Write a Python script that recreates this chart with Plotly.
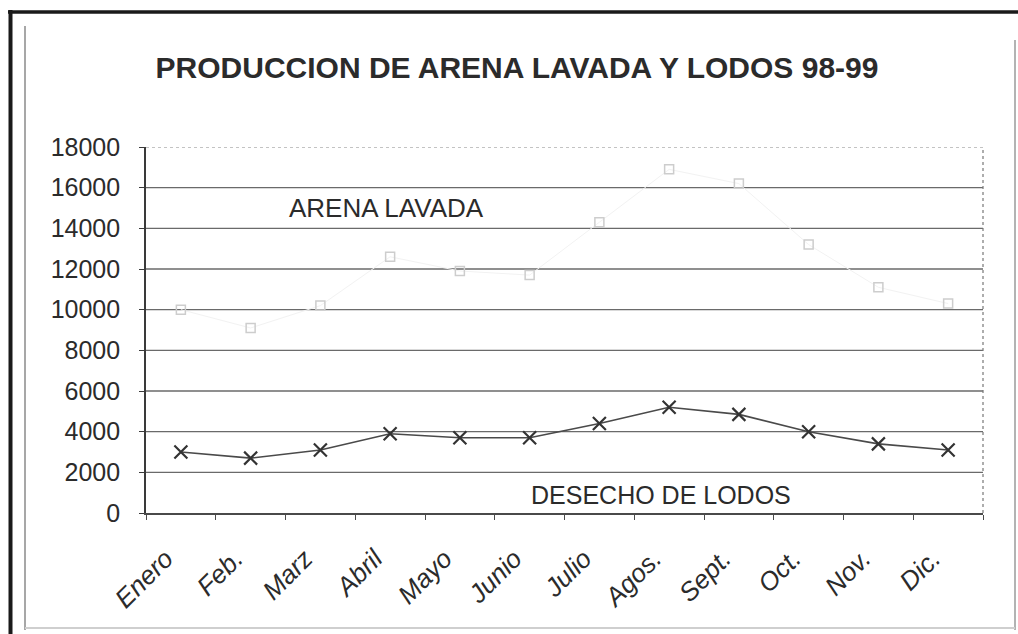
import plotly.graph_objects as go

# Monthly production, 1998-99
meses = ["Enero", "Feb.", "Marz", "Abril", "Mayo", "Junio",
         "Julio", "Agos.", "Sept.", "Oct.", "Nov.", "Dic."]
arena_lavada = [10000, 9100, 10200, 12600, 11900, 11700,
                14300, 16900, 16200, 13200, 11100, 10300]
desecho_lodos = [3000, 2700, 3100, 3900, 3700, 3700,
                 4400, 5200, 4850, 4000, 3400, 3100]
y_ticks = [0, 2000, 4000, 6000, 8000, 10000, 12000, 14000, 16000, 18000]

W, H = 1018, 634
ML, MR, MT, MB = 146, 35, 147, 121
FONT = "Liberation Sans, Arial, sans-serif"
INK = "#2b2b2b"


def px_x(p):
    return (p - ML) / (W - ML - MR)


def px_y(p):
    return 1 - (p - MT) / (H - MT - MB)


fig = go.Figure()

# faint washed sand series
fig.add_trace(go.Scatter(
    x=meses, y=arena_lavada, mode="lines+markers", name="ARENA LAVADA",
    line=dict(color="#f2f2f2", width=1),
    marker=dict(symbol="square-open", size=9, color="#cdcdcd",
                line=dict(width=1.5, color="#cdcdcd")),
))

# sludge waste series
fig.add_trace(go.Scatter(
    x=meses, y=desecho_lodos, mode="lines+markers", name="DESECHO DE LODOS",
    line=dict(color="#4a4a4a", width=1.6),
    marker=dict(symbol="x-thin-open", size=13, color="#333333",
                line=dict(width=2.2, color="#333333")),
))

shapes = []
# horizontal grid lines
for v in y_ticks[1:-1]:
    shapes.append(dict(type="line", xref="paper", yref="y", x0=0, x1=1,
                       y0=v, y1=v, layer="below",
                       line=dict(color="#6a6a6a", width=1.3)))
# dotted top and right plot border
shapes.append(dict(type="line", xref="paper", yref="y", x0=0, x1=1,
                   y0=y_ticks[-1], y1=y_ticks[-1], layer="below",
                   line=dict(color="#888888", width=1.2, dash="dot")))
shapes.append(dict(type="line", xref="paper", yref="paper", x0=1, x1=1,
                   y0=0, y1=1, layer="below",
                   line=dict(color="#777777", width=1.2, dash="dot")))
# outer frame
shapes += [
    dict(type="line", xref="paper", yref="paper", x0=px_x(8), x1=px_x(1018),
         y0=px_y(12), y1=px_y(12), line=dict(color="#1a1a1a", width=3.5)),
    dict(type="line", xref="paper", yref="paper", x0=px_x(10.5), x1=px_x(10.5),
         y0=px_y(10), y1=px_y(634), line=dict(color="#1a1a1a", width=4)),
    dict(type="line", xref="paper", yref="paper", x0=px_x(25), x1=px_x(25),
         y0=px_y(26), y1=px_y(630), line=dict(color="#8a8a8a", width=1.5)),
    dict(type="line", xref="paper", yref="paper", x0=px_x(1015), x1=px_x(1015),
         y0=px_y(40), y1=px_y(630), line=dict(color="#9a9a9a", width=1.5)),
    dict(type="line", xref="paper", yref="paper", x0=px_x(25), x1=px_x(1015),
         y0=px_y(628), y1=px_y(628), line=dict(color="#cfcfcf", width=2)),
]

annotations = [
    dict(text="ARENA LAVADA", xref="paper", yref="paper",
         x=px_x(386), y=px_y(208), xanchor="center", yanchor="middle",
         showarrow=False, font=dict(family=FONT, size=26, color=INK)),
    dict(text="DESECHO DE LODOS", xref="paper", yref="paper",
         x=px_x(661), y=px_y(495), xanchor="center", yanchor="middle",
         showarrow=False, font=dict(family=FONT, size=25, color=INK)),
]

fig.update_layout(
    width=W, height=H,
    margin=dict(l=ML, r=MR, t=MT, b=MB),
    paper_bgcolor="white", plot_bgcolor="white",
    showlegend=False,
    title=dict(text="<b>PRODUCCION DE ARENA LAVADA Y LODOS 98-99</b>",
               x=517 / W, xanchor="center", y=1 - 67 / H, yanchor="middle",
               font=dict(family=FONT, size=30, color=INK)),
    shapes=shapes,
    annotations=annotations,
)

fig.update_xaxes(
    type="category", categoryorder="array", categoryarray=meses,
    tickvals=meses, ticktext=[m + "\u00a0\u00a0\u00a0" for m in meses],
    range=[-0.5, len(meses) - 0.5],
    showgrid=False, zeroline=False,
    showline=True, linecolor="#4a4a4a", linewidth=1.5,
    ticks="outside", tickson="boundaries", ticklen=5, tickcolor="#4a4a4a",
    tickangle=-45, ticklabelstandoff=3,
    tickfont=dict(family=FONT, size=26, color=INK, style="italic"),
)

fig.update_yaxes(
    range=[0, 18000], tickvals=y_ticks, ticktext=[str(v) for v in y_ticks],
    showgrid=False, zeroline=False,
    showline=True, linecolor="#3a3a3a", linewidth=1.6,
    ticks="outside", ticklen=5, tickcolor="#3a3a3a",
    ticklabelstandoff=14,
    tickfont=dict(family=FONT, size=25, color=INK),
)

fig.write_html("out.html")
